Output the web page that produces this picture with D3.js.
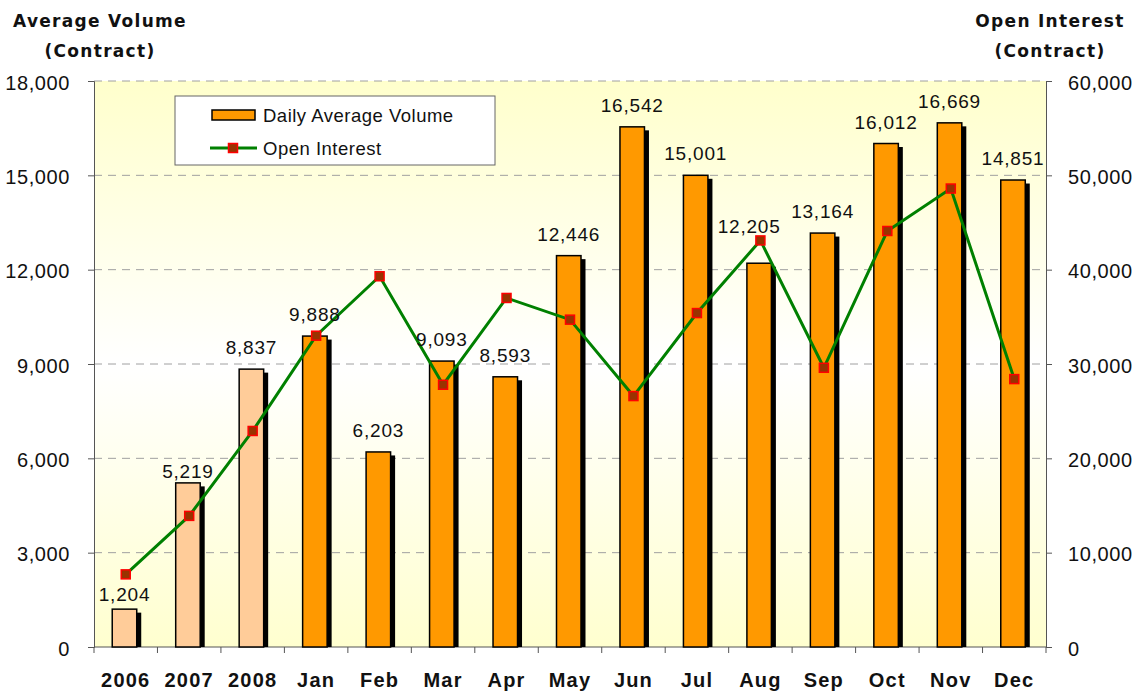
<!DOCTYPE html>
<html>
<head>
<meta charset="utf-8">
<script src="https://cdn.jsdelivr.net/npm/d3@7"></script>
<style>
  body { margin: 0; background: #fff; }
  text { font-family: "Liberation Sans", Arial, sans-serif; fill: #111; }
</style>
</head>
<body>
<div id="container"></div>
<script>
// Chart data
const categories = ["2006", "2007", "2008", "Jan", "Feb", "Mar", "Apr", "May", "Jun", "Jul", "Aug", "Sep", "Oct", "Nov", "Dec"];
const volume = [1204, 5219, 8837, 9888, 6203, 9093, 8593, 12446, 16542, 15001, 12205, 13164, 16012, 16669, 14851];
const openInterest = [7700, 13900, 22900, 33000, 39300, 27800, 37000, 34700, 26600, 35400, 43100, 29600, 44100, 48600, 28400];
const yearly = ["2006", "2007", "2008"];
const leftTicks = [0, 3000, 6000, 9000, 12000, 15000, 18000];
const rightTicks = [0, 10000, 20000, 30000, 40000, 50000, 60000];

// a few value labels were nudged by hand in the original
const labelNudge = { "2006": [0, 7], "2007": [0, 10], "Aug": [-10, -15] };

const width = 1136, height = 692;
const m = { left: 94, right: 1046, top: 81, bottom: 647 };
const fmt = d3.format(",");

const svg = d3.create("svg")
  .attr("width", width)
  .attr("height", height);
container.append(svg.node());

// background gradient of the plot area
const grad = svg.append("defs").append("linearGradient")
  .attr("id", "bg").attr("x1", 0).attr("y1", 0).attr("x2", 0).attr("y2", 1);
grad.append("stop").attr("offset", "0%").attr("stop-color", "#ffffcc");
grad.append("stop").attr("offset", "50%").attr("stop-color", "#ffffff");
grad.append("stop").attr("offset", "100%").attr("stop-color", "#ffffcf");

svg.append("rect")
  .attr("x", m.left).attr("y", m.top)
  .attr("width", m.right - m.left).attr("height", m.bottom - m.top)
  .attr("fill", "url(#bg)");

const x = d3.scaleBand().domain(categories).range([m.left, m.right]);
const yL = d3.scaleLinear().domain([0, 18000]).range([m.bottom, m.top]);
const yR = d3.scaleLinear().domain([0, 60000]).range([m.bottom, m.top]);

// dashed gridlines
svg.append("g").selectAll("line")
  .data(leftTicks.filter(d => d > 0))
  .join("line")
  .attr("x1", m.left).attr("x2", m.right)
  .attr("y1", d => yL(d)).attr("y2", d => yL(d))
  .attr("stroke", "#a0a0a0").attr("stroke-width", 1)
  .attr("stroke-dasharray", "8,6");

// axes
const styleAxis = g => {
  g.selectAll("path, line").attr("stroke", "#555");
  g.selectAll("text")
    .style("font-family", '"Liberation Sans", Arial, sans-serif')
    .style("font-size", "20px")
    .style("letter-spacing", "0.6px")
    .attr("fill", "#111");
};

svg.append("g")
  .attr("transform", `translate(${m.left},0)`)
  .call(d3.axisLeft(yL).tickValues(leftTicks).tickSize(6).tickPadding(18).tickFormat(fmt))
  .call(styleAxis)
  .call(g => g.selectAll("text").attr("dy", "0.4em"));

svg.append("g")
  .attr("transform", `translate(${m.right},0)`)
  .call(d3.axisRight(yR).tickValues(rightTicks).tickSize(6).tickPadding(16).tickFormat(fmt))
  .call(styleAxis)
  .call(g => g.selectAll("text").attr("dy", "0.4em"));

// bottom axis: labels centered, ticks between categories
svg.append("line")
  .attr("x1", m.left).attr("x2", m.right)
  .attr("y1", m.bottom).attr("y2", m.bottom)
  .attr("stroke", "#555");
svg.append("g").selectAll("line")
  .data(categories.map(c => x(c)).concat([m.right]))
  .join("line")
  .attr("x1", d => d).attr("x2", d => d)
  .attr("y1", m.bottom).attr("y2", m.bottom + 6)
  .attr("stroke", "#555");
svg.append("g").selectAll("text")
  .data(categories)
  .join("text")
  .attr("x", d => x(d) + x.bandwidth() / 2)
  .attr("y", 687)
  .attr("text-anchor", "middle")
  .style("font-size", "20px")
  .style("font-weight", "bold")
  .style("letter-spacing", "1.2px")
  .text(d => d);

// bars with drop shadows
const barW = 24.5;
const barX = d => x(d) + x.bandwidth() / 2 - 13.5;
const rows = categories.map((c, i) => ({ c, v: volume[i], oi: openInterest[i] }));

svg.append("g").selectAll("rect")
  .data(rows)
  .join("rect")
  .attr("x", d => barX(d.c) + 4.5)
  .attr("y", d => yL(d.v) + 3.5)
  .attr("width", barW)
  .attr("height", d => m.bottom - yL(d.v) - 3.5)
  .attr("fill", "#000");

svg.append("g").selectAll("rect")
  .data(rows)
  .join("rect")
  .attr("x", d => barX(d.c))
  .attr("y", d => yL(d.v))
  .attr("width", barW)
  .attr("height", d => m.bottom - yL(d.v))
  .attr("fill", d => yearly.includes(d.c) ? "#ffcc99" : "#ff9900")
  .attr("stroke", "#000")
  .attr("stroke-width", 1.5);

// open interest line
const cx = c => x(c) + x.bandwidth() / 2;
svg.append("path")
  .datum(rows)
  .attr("fill", "none")
  .attr("stroke", "#008000")
  .attr("stroke-width", 3)
  .attr("d", d3.line().x(d => cx(d.c)).y(d => yR(d.oi)));

svg.append("g").selectAll("rect")
  .data(rows)
  .join("rect")
  .attr("x", d => cx(d.c) - 4.5)
  .attr("y", d => yR(d.oi) - 4.5)
  .attr("width", 9).attr("height", 9)
  .attr("fill", "#993300")
  .attr("stroke", "#ff0000")
  .attr("stroke-width", 1.5);

// value labels
svg.append("g").selectAll("text")
  .data(rows)
  .join("text")
  .attr("x", d => barX(d.c) + barW / 2 + (labelNudge[d.c] ? labelNudge[d.c][0] : 0))
  .attr("y", d => yL(d.v) - 15 + (labelNudge[d.c] ? labelNudge[d.c][1] : 0))
  .attr("text-anchor", "middle")
  .style("font-size", "19px")
  .style("letter-spacing", "0.8px")
  .text(d => fmt(d.v));

// axis titles
const title = (lines, cx0) => {
  lines.forEach((t, i) => {
    svg.append("text")
      .attr("x", cx0).attr("y", 27 + i * 30)
      .attr("text-anchor", "middle")
      .style("font-family", '"DejaVu Sans", sans-serif')
      .style("font-size", "17px")
      .style("font-weight", "bold")
      .style("letter-spacing", "1.3px")
      .text(t);
  });
};
title(["Average Volume", "(Contract)"], 100);
title(["Open Interest", "(Contract)"], 1050);

// legend
const lg = svg.append("g");
lg.append("rect")
  .attr("x", 175).attr("y", 96).attr("width", 320).attr("height", 69)
  .attr("fill", "#fff").attr("stroke", "#666");
lg.append("rect")
  .attr("x", 212).attr("y", 110).attr("width", 43).attr("height", 10)
  .attr("fill", "#ff9900").attr("stroke", "#000").attr("stroke-width", 1.5);
lg.append("line")
  .attr("x1", 210).attr("x2", 257).attr("y1", 148).attr("y2", 148)
  .attr("stroke", "#008000").attr("stroke-width", 3);
lg.append("rect")
  .attr("x", 228.5).attr("y", 143.5).attr("width", 9).attr("height", 9)
  .attr("fill", "#993300").attr("stroke", "#ff0000").attr("stroke-width", 1.5);
lg.selectAll("text.lbl")
  .data(["Daily Average Volume", "Open Interest"])
  .join("text")
  .attr("class", "lbl")
  .attr("x", 263)
  .attr("y", (d, i) => 122 + i * 33)
  .style("font-size", "18.5px")
  .style("letter-spacing", "0.5px")
  .text(d => d);
</script>
</body>
</html>
